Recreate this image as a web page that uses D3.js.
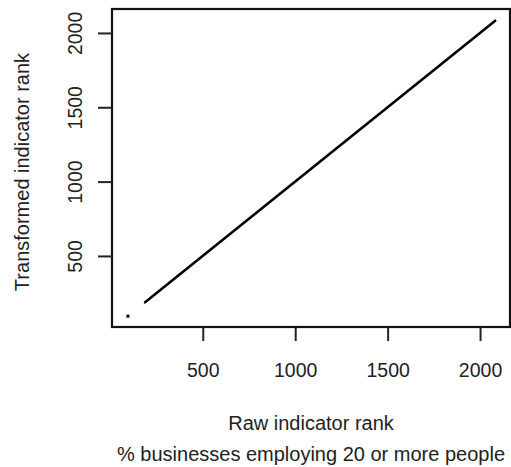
<!DOCTYPE html>
<html><head><meta charset="utf-8">
<script src="https://cdn.jsdelivr.net/npm/d3@7"></script>
<style>body{margin:0;background:#fff}svg{display:block}text{font-family:"Liberation Sans",Arial,Helvetica,sans-serif;fill:#222}</style>
</head><body>
<script>
// data
const lineRaw = [188, 2082];
const lineTransformed = [188, 2082];
const pointRaw = [95];
const pointTransformed = [95];
const xTicks = [500, 1000, 1500, 2000];
const yTicks = [500, 1000, 1500, 2000];
const xTitle = "Raw indicator rank";
const xSubtitle = "% businesses employing 20 or more people";
const yTitle = "Transformed indicator rank";

const W = 511, H = 467;
const box = {l:112, r:510, t:9, b:327};
const svg = d3.select("body").append("svg").attr("width", W).attr("height", H);

const x = d3.scaleLinear().domain([9, 2162]).range([box.l, box.r]);
const y = d3.scaleLinear().domain([22, 2161]).range([box.b, box.t]);

// line
const lineData = lineRaw.map((v,i)=>[v, lineTransformed[i]]);
svg.append("path").datum(lineData)
  .attr("d", d3.line().x(d=>x(d[0])).y(d=>y(d[1])))
  .attr("fill","none").attr("stroke","#000").attr("stroke-width",2.6).attr("stroke-linecap","round");
// point
svg.selectAll("rect.pt").data(pointRaw.map((v,i)=>[v, pointTransformed[i]])).enter().append("rect")
  .attr("x", d=>x(d[0])-1.5).attr("y", d=>y(d[1])-1.5).attr("width",3).attr("height",3).attr("fill","#000");

// box
svg.append("rect").attr("x",box.l).attr("y",box.t).attr("width",box.r-box.l).attr("height",box.b-box.t)
  .attr("fill","none").attr("stroke","#111").attr("stroke-width",2.2);

// x axis
const xa = svg.append("g").attr("transform",`translate(0,${box.b})`)
  .call(d3.axisBottom(x).tickValues(xTicks).tickSize(14).tickPadding(22).tickFormat(d3.format("d")));
xa.select(".domain").remove();
xa.selectAll("line").attr("stroke","#222").attr("stroke-width",2);
xa.selectAll("text").attr("font-size",19.5).style("font-family",'"Liberation Sans",Arial,sans-serif').attr("fill","#222");

// y axis
const ya = svg.append("g").attr("transform",`translate(${box.l},0)`)
  .call(d3.axisLeft(y).tickValues(yTicks).tickSize(14).tickFormat(d3.format("d")));
ya.select(".domain").remove();
ya.selectAll("line").attr("stroke","#222").attr("stroke-width",2);
ya.selectAll("text").remove();
ya.selectAll(".tick").append("text")
  .attr("transform","translate(-37,0) rotate(-90)")
  .attr("text-anchor","middle").attr("dy","0.35em")
  .attr("font-size",19.5).attr("fill","#222")
  .text(d=>d3.format("d")(d));

// titles
const cx = (box.l+box.r)/2;
svg.append("text").attr("x",cx).attr("y",430).attr("text-anchor","middle").attr("font-size",20).text(xTitle);
svg.append("text").attr("x",cx).attr("y",461).attr("text-anchor","middle").attr("font-size",20).text(xSubtitle);
svg.append("text").attr("transform",`translate(29,${(box.t+box.b)/2 + 4}) rotate(-90)`)
  .attr("text-anchor","middle").attr("font-size",20).text(yTitle);
</script>
</body></html>
